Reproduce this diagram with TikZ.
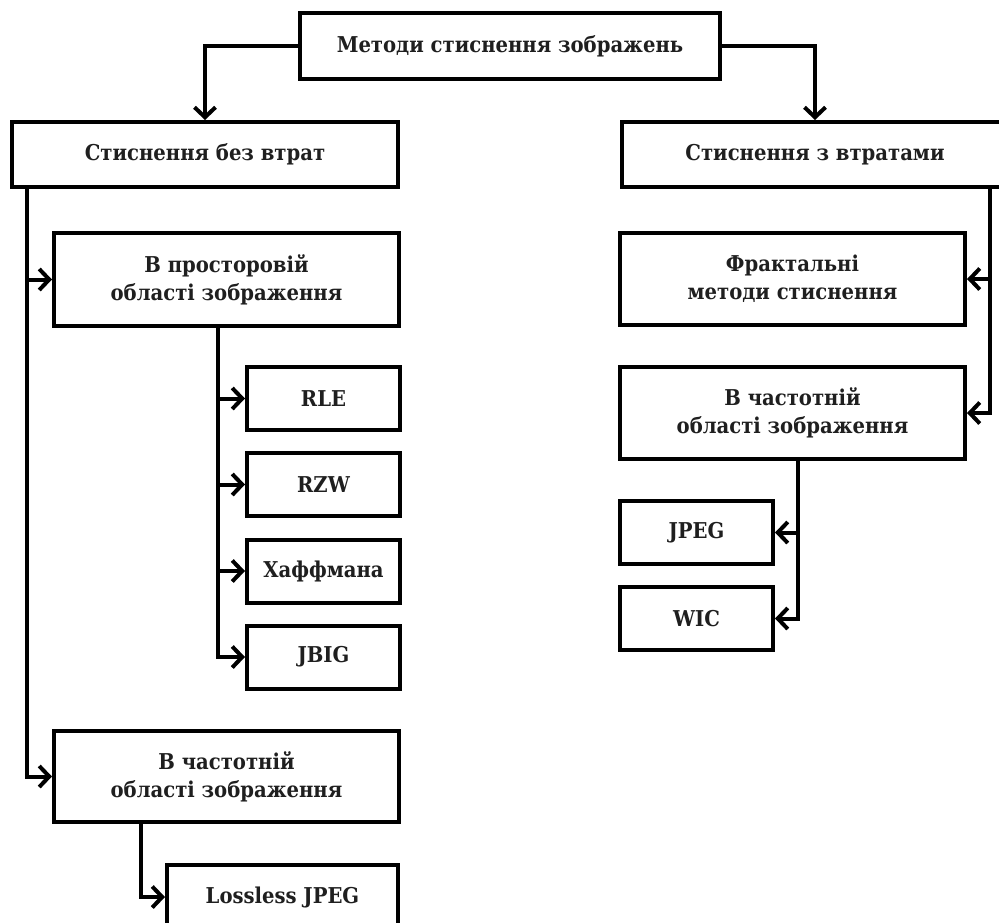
\documentclass[tikz,border=0pt]{standalone}
\usepackage{fontspec}
\setmainfont{DejaVu Serif Condensed}
\usetikzlibrary{arrows.meta,calc}
\begin{document}
\begin{tikzpicture}[x=1pt,y=-1pt,
  box/.style={draw=black,line width=4pt,fill=white,align=center,inner sep=0pt,
    font=\fontsize{21.8}{28}\selectfont\bfseries,text=black!88},
  conn/.style={line width=4pt,draw=black},
  arr/.style={conn,-{Straight Barb[length=10pt,width=21pt,line width=4pt]}}]
\useasboundingbox (0,0) rectangle (999,922);
\clip (0,0) rectangle (999,922);
\fill[white] (0,0) rectangle (999,922);
% boxes
\node[box,minimum width=420pt,minimum height=66pt] (top) at (510,46) {Методи стиснення зображень};
\node[box,minimum width=386pt,minimum height=65pt] (L1) at (205,154.5) {Стиснення без втрат};
\node[box,minimum width=386pt,minimum height=65pt] (R1) at (815,154.5) {Стиснення з втратами};
\node[box,minimum width=345pt,minimum height=93pt] (L2) at (226.5,279.5) {В просторовій\\області зображення};
\node[box,minimum width=153pt,minimum height=63pt] (rle) at (323.5,398.5) {RLE};
\node[box,minimum width=153pt,minimum height=63pt] (rzw) at (323.5,484.5) {RZW};
\node[box,minimum width=153pt,minimum height=63pt] (haf) at (323.5,571) {Хаффмана};
\node[box,minimum width=153pt,minimum height=63pt] (jbig) at (323.5,657) {JBIG};
\node[box,minimum width=345pt,minimum height=91pt] (L3) at (226.5,776.5) {В частотній\\області зображення};
\node[box,minimum width=231pt,minimum height=64pt] (ljpeg) at (282.5,897) {Lossless JPEG};
\node[box,minimum width=345pt,minimum height=92pt] (R2) at (792.5,279) {Фрактальні\\методи стиснення};
\node[box,minimum width=345pt,minimum height=92pt] (R3) at (792.5,413) {В частотній\\області зображення};
\node[box,minimum width=153pt,minimum height=63pt] (jpeg) at (696.5,532.5) {JPEG};
\node[box,minimum width=153pt,minimum height=63pt] (wic) at (696.5,618.5) {WIC};
% trunk coordinates
\coordinate (tL1) at ($(L1.south west)+(17,0)$);
\coordinate (tL2) at ($(L2.south west)+(166,0)$);
\coordinate (tL3) at ($(L3.south west)+(89,0)$);
\coordinate (tR1) at ($(R1.south east)+(-20,0)$);
\coordinate (tR3) at ($(R3.south)+(5.5,0)$);
% connectors
\draw[arr] (top.west) -| (L1.north);
\draw[arr] (top.east) -| (R1.north);
\draw[arr] (tL1) |- (L2.west);
\draw[arr] (tL1) |- (L3.west);
\draw[arr] (tL2) |- (rle.west);
\draw[arr] (tL2) |- (rzw.west);
\draw[arr] (tL2) |- (haf.west);
\draw[arr] (tL2) |- (jbig.west);
\draw[arr] (tL3) |- (ljpeg.west);
\draw[arr] (tR1) |- (R2.east);
\draw[arr] (tR1) |- (R3.east);
\draw[arr] (tR3) |- (jpeg.east);
\draw[arr] (tR3) |- (wic.east);
\end{tikzpicture}
\end{document}
